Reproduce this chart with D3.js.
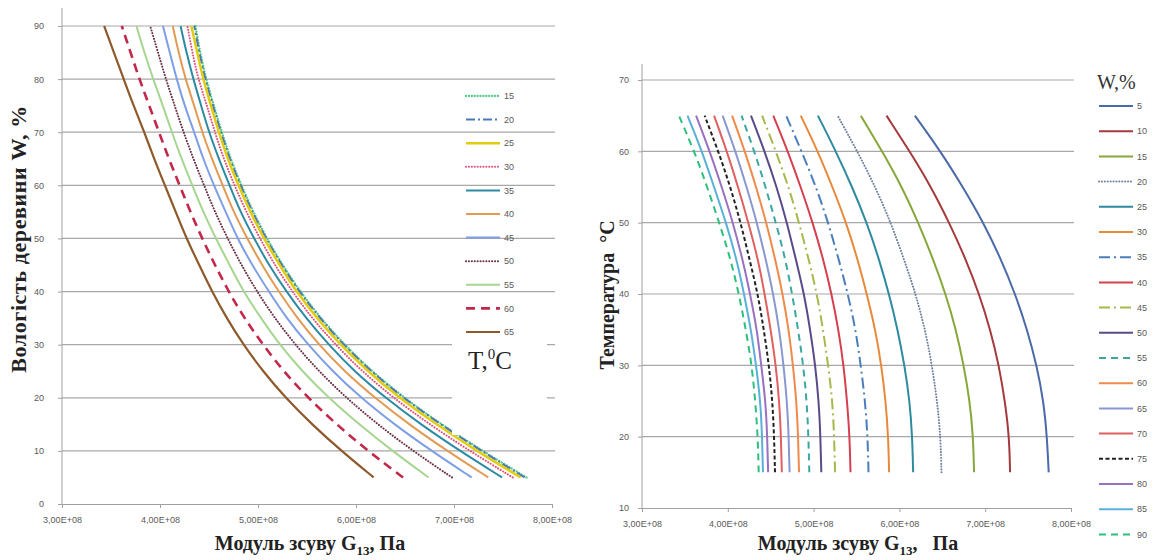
<!DOCTYPE html>
<html>
<head>
<meta charset="utf-8">
<script src="https://cdn.jsdelivr.net/npm/d3@7"></script>
<style>
  body { margin: 0; background: #fff; }
  svg { display: block; }
  .tick text { font-family: "Liberation Sans", Arial, sans-serif; font-size: 9px; fill: #595959; }
  .title { font-family: "Liberation Serif", "Times New Roman", serif; font-weight: bold; font-size: 20px; fill: #222; white-space: pre; }
  .leg text { font-family: "Liberation Sans", Arial, sans-serif; font-size: 9px; fill: #595959; }
</style>
</head>
<body>
<script>
// moisture W, % and temperature T, C
const moisture = [5, 10, 15, 20, 25, 30, 35, 40, 45, 50, 55, 60, 65, 70, 75, 80, 85, 90]
const temps = [15, 20, 25, 30, 35, 40, 45, 50, 55, 60, 65]

// shear modulus G13 (x 1e8 Pa) for each temperature, across moisture 5..90
const g15 = [7.74, 7.29, 6.87, 6.49, 6.16, 5.88, 5.64, 5.43, 5.25, 5.09, 4.95, 4.83, 4.72, 4.63, 4.55, 4.47, 4.41, 4.36]
const g20 = [7.72, 7.28, 6.86, 6.48, 6.15, 5.87, 5.63, 5.42, 5.24, 5.08, 4.94, 4.82, 4.71, 4.62, 4.54, 4.46, 4.40, 4.35]
const g25 = [7.68, 7.23, 6.82, 6.44, 6.12, 5.84, 5.60, 5.39, 5.22, 5.06, 4.92, 4.80, 4.69, 4.60, 4.52, 4.44, 4.38, 4.32]
const g30 = [7.60, 7.16, 6.75, 6.38, 6.06, 5.79, 5.55, 5.35, 5.17, 5.02, 4.88, 4.76, 4.65, 4.56, 4.48, 4.39, 4.33, 4.28]
const g35 = [7.49, 7.06, 6.66, 6.30, 5.98, 5.72, 5.49, 5.29, 5.11, 4.96, 4.82, 4.71, 4.60, 4.50, 4.42, 4.34, 4.27, 4.21]
const g40 = [7.35, 6.93, 6.54, 6.19, 5.88, 5.62, 5.40, 5.21, 5.04, 4.89, 4.75, 4.64, 4.53, 4.43, 4.35, 4.26, 4.19, 4.13]
const g45 = [7.18, 6.77, 6.39, 6.05, 5.76, 5.51, 5.29, 5.11, 4.94, 4.79, 4.67, 4.55, 4.44, 4.35, 4.25, 4.17, 4.10, 4.03]
const g50 = [6.98, 6.58, 6.22, 5.90, 5.62, 5.38, 5.17, 4.99, 4.83, 4.69, 4.56, 4.45, 4.34, 4.24, 4.15, 4.06, 3.98, 3.90]
const g55 = [6.74, 6.37, 6.03, 5.72, 5.45, 5.22, 5.03, 4.85, 4.71, 4.57, 4.44, 4.33, 4.22, 4.12, 4.03, 3.93, 3.84, 3.76]
const g60 = [6.48, 6.12, 5.80, 5.51, 5.26, 5.05, 4.86, 4.70, 4.56, 4.43, 4.31, 4.20, 4.09, 3.99, 3.89, 3.79, 3.70, 3.61]
const g65 = [6.18, 5.85, 5.55, 5.28, 5.05, 4.85, 4.68, 4.53, 4.40, 4.27, 4.16, 4.05, 3.94, 3.84, 3.73, 3.63, 3.53, 3.43]
const gByTemp = [g15, g20, g25, g30, g35, g40, g45, g50, g55, g60, g65]

const xTicks = [3, 4, 5, 6, 7, 8]
const wTicks = [0, 10, 20, 30, 40, 50, 60, 70, 80, 90]
const tTicks = [10, 20, 30, 40, 50, 60, 70]

// line styles
const DOT = '0.1,2.8'
const leftColors = ['#55c98a', '#4a78b8', '#e2cc10', '#e0507a', '#2c8ba3', '#e39a52', '#7e9ee6', '#6a3048', '#a6d68f', '#c3284a', '#8e5a2c']
const leftDash = [DOT, '9,3,2,3', null, DOT, null, null, null, DOT, null, '9,6', null]
const leftWidth = [2.3, 2, 2.5, 2, 2, 2, 2, 2, 2, 2.6, 2.2]

const rightColors = ['#4a6aa8', '#a53a3c', '#86a83a', '#7080a0', '#2e8a9e', '#e8893a', '#4a7ebb', '#d5404f', '#a8b84a', '#5a4a8a',
  '#3aa8a0', '#f08a4b', '#8898d0', '#e06060', '#222222', '#9a70c0', '#5ab0d8', '#2cc07c']
const rightDash = [null, null, null, DOT, null, null, '11,4,2,4', null, '11,4,2,4', null,
  '7,5', null, null, null, '4,2.5', null, null, '7,5']

const leftSeries = temps.map((t, i) => ({ key: t, values: moisture.map((w, j) => ({ g: gByTemp[i][j], v: w })) }))
const rightSeries = moisture.map((w, j) => ({ key: w, values: temps.map((t, i) => ({ g: gByTemp[i][j], v: t })) }))

const svg = d3.select('body').append('svg').attr('width', 1153).attr('height', 560)

const fmt = (d) => d.toFixed(2).replace('.', ',') + 'E+08'
const capOf = (dash) => dash === DOT ? 'round' : 'butt'

function drawPanel(opt) {
  const { x, y, yTicks, series, colors, dash, widths, axisTop, labelPad } = opt
  const g = svg.append('g')
  const [x0, x1] = x.range()
  // gridlines
  g.selectAll('line.grid')
    .data(yTicks.slice(1))
    .enter()
    .append('line')
    .attr('x1', x0).attr('x2', x1 + 3)
    .attr('y1', (d) => y(d)).attr('y2', (d) => y(d))
    .attr('stroke', '#a8a8a8').attr('stroke-width', 1.2)
  // axes
  const ax = g.append('g').attr('transform', `translate(0,${y.range()[0]})`)
    .call(d3.axisBottom(x).tickValues(xTicks).tickFormat(fmt).tickSize(4).tickSizeOuter(0).tickPadding(9))
  const ay = g.append('g').attr('transform', `translate(${x0},0)`)
    .call(d3.axisLeft(y).tickValues(yTicks).tickSize(4).tickSizeOuter(0).tickPadding(labelPad))
  ;[ax, ay].forEach((a) => {
    a.select('.domain').attr('stroke', '#a0a0a0')
    a.selectAll('.tick line').attr('stroke', '#a0a0a0')
  })
  ay.select('.domain').attr('d', `M0,${y.range()[0]}V${axisTop}`)

  const line = d3.line()
    .x((d) => x(d.g))
    .y((d) => y(d.v))
    .curve(d3.curveBasis)
  g.selectAll('path.series')
    .data(series)
    .enter()
    .append('path')
    .attr('class', 'series')
    .attr('d', (d) => line(d.values))
    .attr('fill', 'none')
    .attr('stroke', (d, i) => colors[i])
    .attr('stroke-width', (d, i) => widths ? widths[i] : 2)
    .attr('stroke-dasharray', (d, i) => dash[i])
    .attr('stroke-linecap', (d, i) => capOf(dash[i]))
  return g
}

const xL = d3.scaleLinear([3, 8], [62, 552])
const yL = d3.scaleLinear([0, 90], [504, 26])
drawPanel({ x: xL, y: yL, yTicks: wTicks, series: leftSeries, colors: leftColors, dash: leftDash, widths: leftWidth, axisTop: 8, labelPad: 14 })

const xR = d3.scaleLinear([3, 8], [642, 1071])
const yR = d3.scaleLinear([10, 70], [508, 80])
drawPanel({ x: xR, y: yR, yTicks: tTicks, series: rightSeries, colors: rightColors, dash: rightDash, widths: null, axisTop: 64, labelPad: 9 })

// left legend
const legL = svg.append('g').attr('class', 'leg')
legL.append('rect').attr('x', 452).attr('y', 330).attr('width', 95).attr('height', 105).attr('fill', '#fff')
const legLItems = legL.selectAll('g.item')
  .data(temps)
  .enter()
  .append('g')
  .attr('transform', (d, i) => `translate(466,${96 + i * 23.6})`)
legLItems.append('line')
  .attr('x1', 0).attr('x2', 34)
  .attr('stroke', (d, i) => leftColors[i])
  .attr('stroke-width', (d, i) => leftWidth[i])
  .attr('stroke-dasharray', (d, i) => leftDash[i])
  .attr('stroke-linecap', (d, i) => capOf(leftDash[i]))
legLItems.append('text').attr('x', 38).attr('dy', '0.35em').text((d) => d)
const tLabel = svg.append('text')
  .attr('x', 468).attr('y', 369)
  .style('font-family', '"Liberation Serif", serif').style('font-size', '25px').style('fill', '#222')
tLabel.append('tspan').text('T,')
tLabel.append('tspan').attr('dy', -10).style('font-size', '15px').text('0')
tLabel.append('tspan').attr('dy', 10).text('C')

// right legend
const legR = svg.append('g').attr('class', 'leg')
svg.append('text')
  .attr('x', 1097).attr('y', 89)
  .style('font-family', '"Liberation Serif", serif').style('font-size', '20px').style('fill', '#333')
  .text('W,%')
const legRItems = legR.selectAll('g.item')
  .data(moisture)
  .enter()
  .append('g')
  .attr('transform', (d, i) => `translate(1099,${106 + i * 25.2})`)
legRItems.append('line')
  .attr('x1', 0).attr('x2', 34)
  .attr('stroke', (d, i) => rightColors[i])
  .attr('stroke-width', 2)
  .attr('stroke-dasharray', (d, i) => rightDash[i])
  .attr('stroke-linecap', (d, i) => capOf(rightDash[i]))
legRItems.append('text').attr('x', 38).attr('dy', '0.35em').text((d) => d)

// axis titles
function xTitle(cx, gap) {
  const t = svg.append('text').attr('class', 'title').attr('x', cx).attr('y', 550).attr('text-anchor', 'middle')
  t.append('tspan').text('Модуль зсуву G')
  t.append('tspan').attr('dy', 5).style('font-size', '13px').text('13')
  t.append('tspan').attr('dy', -5).text(',' + gap + 'Па')
}
xTitle(310, ' ')
xTitle(858, '   ')

svg.append('text').attr('class', 'title')
  .attr('transform', 'translate(26,239) rotate(-90)')
  .attr('text-anchor', 'middle')
  .style('font-size', '22px')
  .style('letter-spacing', '0.6px')
  .text('Вологість деревини W, %')
svg.append('text').attr('class', 'title')
  .attr('transform', 'translate(614,295) rotate(-90)')
  .attr('text-anchor', 'middle')
  .text('Температура  °С')
</script>
</body>
</html>
